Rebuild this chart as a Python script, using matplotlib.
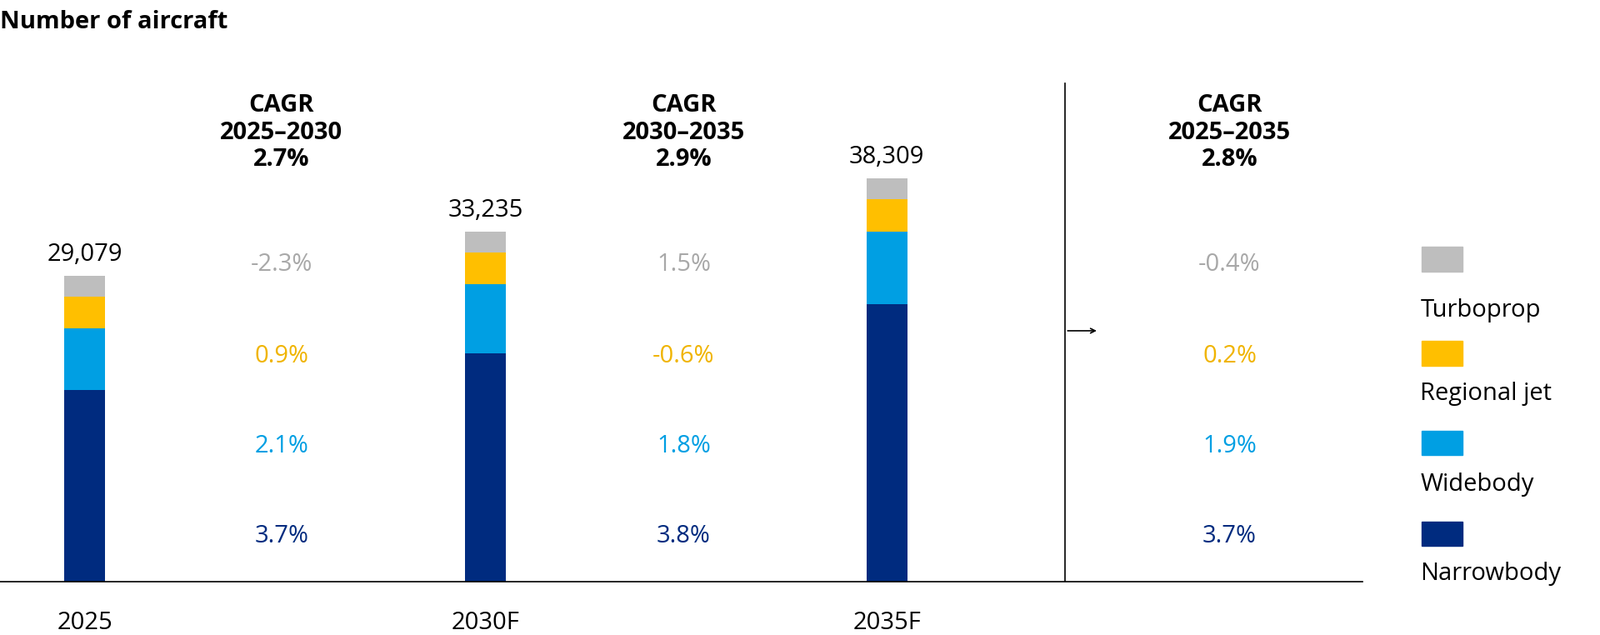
import matplotlib
matplotlib.use("Agg")
import matplotlib.pyplot as plt
from matplotlib.patches import Rectangle

plt.rcParams["font.family"] = "Open Sans"

years = ["2025", "2030F", "2035F"]
totals = ["29,079", "33,235", "38,309"]
segments = ["Narrowbody", "Widebody", "Regional jet", "Turboprop"]
narrowbody = [18220, 21700, 26360]
widebody = [5810, 6590, 6880]
regional = [3010, 3010, 3100]
turboprop = [2039, 1935, 1969]
colors = ["#002b7f", "#009fe3", "#ffbf00", "#bebebe"]
text_colors = ["#002b7f", "#009fe3", "#f0b400", "#a8a8a8"]

cagr_heads = ["CAGR\n2025–2030\n2.7%", "CAGR\n2030–2035\n2.9%", "CAGR\n2025–2035\n2.8%"]
cagr_narrow = ["3.7%", "3.8%", "3.7%"]
cagr_wide = ["2.1%", "1.8%", "1.9%"]
cagr_regional = ["0.9%", "-0.6%", "0.2%"]
cagr_turbo = ["-2.3%", "1.5%", "-0.4%"]

W, H = 1568, 622          # layout reference grid
scale = 0.01032           # px per aircraft
def yv(py):
    return (570 - py) / scale

fig = plt.figure(figsize=(19.2, 7.62), dpi=100)
ax = fig.add_axes([0, 1 - 570 / H, 1335 / W, 570 / H])
ax.set_xlim(-83 / 393, (1335 - 83) / 393)
ax.set_ylim(0, yv(0))
for s in ["top", "right", "left"]:
    ax.spines[s].set_visible(False)
ax.spines["bottom"].set_linewidth(1.2)
ax.set_xticks([]); ax.set_yticks([])

x = [0, 1, 2]
series = [narrowbody, widebody, regional, turboprop]
bottom = [0, 0, 0]
for vals, c in zip(series, colors):
    ax.bar(x, vals, width=40 / 393, bottom=bottom, color=c)
    bottom = [b + v for b, v in zip(bottom, vals)]
for xi, top, lab, yr in zip(x, bottom, totals, years):
    ax.annotate(lab, (xi, top), xytext=(0, 8), textcoords="offset points",
                ha="center", va="bottom", fontsize=21)
    ax.text(xi, -yv(570 - 40), yr, ha="center", va="center", fontsize=21, clip_on=False)

cx = [(276 - 83) / 393, (670 - 83) / 393, (1205 - 83) / 393]
rows = [(cagr_turbo, 259), (cagr_regional, 349), (cagr_wide, 437), (cagr_narrow, 525)]
for i in range(3):
    ax.text(cx[i], yv(130), cagr_heads[i], ha="center", va="center",
            fontsize=21, fontweight="bold", linespacing=1.15)
    for (vals, py), tc in zip(rows, text_colors[::-1]):
        ax.text(cx[i], yv(py), vals[i], ha="center", va="center", fontsize=21, color=tc)

xv = (1044 - 83) / 393
ax.plot([xv, xv], [0, yv(82)], color="black", lw=1.2)
ax.annotate("", xy=((1077 - 83) / 393, yv(324)), xytext=(xv, yv(324)),
            arrowprops=dict(arrowstyle="->", lw=1.2, color="black"))

# legend
lx0 = (1393 - 83) / 393
lw = 40 / 393
legend_rows = [(3, 242, 304), (2, 334, 386), (1, 422, 475), (0, 511, 562)]
for idx, sq, tx in legend_rows:
    ax.add_patch(Rectangle((lx0, yv(sq + 24)), lw, 24 / scale, color=colors[idx], clip_on=False))
    ax.text(lx0 - 0.003, yv(tx), segments[idx], ha="left", va="center", fontsize=21, clip_on=False)

fig.text(0, 1 - 22 / H, "Number of aircraft", ha="left", va="center",
         fontsize=21, fontweight="bold")

fig.savefig("out.png", dpi=100)
